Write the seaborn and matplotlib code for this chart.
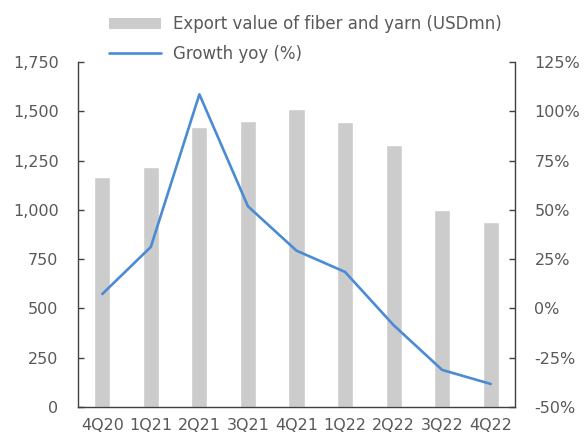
import numpy as np
import pandas as pd
import matplotlib
matplotlib.use("Agg")
import matplotlib.pyplot as plt
from matplotlib.ticker import FuncFormatter, FixedLocator
from matplotlib.patches import Patch
from matplotlib.lines import Line2D
import seaborn as sns

quarters = ["4Q20", "1Q21", "2Q21", "3Q21", "4Q21", "1Q22", "2Q22", "3Q22", "4Q22"]
export_value = [1168, 1216, 1422, 1452, 1512, 1446, 1328, 998, 937]
growth_yoy = [7.3, 31.2, 108.6, 51.8, 29.3, 18.5, -8.5, -31.2, -38.3]
left_ticks = [0, 250, 500, 750, 1000, 1250, 1500, 1750]
right_ticks = [-50, -25, 0, 25, 50, 75, 100, 125]

bar_label = "Export value of fiber and yarn (USDmn)"
line_label = "Growth yoy (%)"

sns.set_theme(style="white")
plt.rcParams["font.family"] = ["DejaVu Sans"]

text_color = "#595959"
spine_color = "#404040"
bar_color = "#CCCCCC"
line_color = "#4A8BD4"

df = pd.DataFrame({"quarter": quarters, "value": export_value, "growth": growth_yoy})

fig = plt.figure(figsize=(5.84, 4.41), dpi=100)
ax = fig.add_axes([78 / 584, 1 - 407 / 441, (515 - 78) / 584, (407 - 62) / 441])

sns.barplot(data=df, x="quarter", y="value", color=bar_color, width=0.33,
            saturation=1, ax=ax)
ax.set_xlim(-0.5, len(quarters) - 0.5)
ax.set_ylim(0, 1750)
ax.yaxis.set_major_locator(FixedLocator(left_ticks))
ax.yaxis.set_major_formatter(FuncFormatter(lambda v, p: f"{v:,.0f}"))
ax.set_xlabel("")
ax.set_ylabel("")

ax2 = ax.twinx()
sns.lineplot(x=np.arange(len(quarters)), y=growth_yoy, color=line_color,
             linewidth=1.9, ax=ax2)
ax2.set_ylim(-50, 125)
ax2.yaxis.set_major_locator(FixedLocator(right_ticks))
ax2.yaxis.set_major_formatter(FuncFormatter(lambda v, p: f"{v:.0f}%"))
ax2.set_ylabel("")

for a in (ax, ax2):
    for side in ("left", "right", "bottom", "top"):
        a.spines[side].set_visible(False)
ax.spines["left"].set_visible(True)
ax.spines["bottom"].set_visible(True)
ax2.spines["right"].set_visible(True)
for a, side in ((ax, "left"), (ax, "bottom"), (ax2, "right")):
    a.spines[side].set_color(spine_color)
    a.spines[side].set_linewidth(1.0)

ax.set_xticks(np.arange(len(quarters)))
ax.set_xticklabels(quarters)
ax.set_xticks(np.arange(-0.5, len(quarters), 1.0), minor=True)
ax.tick_params(axis="x", which="major", length=0, pad=8, labelsize=11.5,
               labelcolor=text_color)
ax.tick_params(axis="x", which="minor", direction="in", length=4.5,
               width=1.0, color=spine_color)
ax.tick_params(axis="y", which="major", direction="in", length=4, width=1.0,
               color=spine_color, labelsize=11.5, labelcolor=text_color, pad=14)
ax2.tick_params(axis="y", which="major", direction="in", length=4, width=1.0,
                color=spine_color, labelsize=11.5, labelcolor=text_color,
                pad=14)
ax.grid(False)
ax2.grid(False)

handles = [Patch(facecolor=bar_color, edgecolor="none"),
           Line2D([0], [0], color=line_color, linewidth=1.9)]
fig.legend(handles, [bar_label, line_label], loc="upper left",
           bbox_to_anchor=(109 / 584, 1 - 15 / 441), frameon=False,
           fontsize=12, labelcolor=text_color, handlelength=3.1,
           handleheight=0.65, handletextpad=0.72, labelspacing=0.72,
           borderpad=0, borderaxespad=0)

fig.savefig("out.png", dpi=100)
